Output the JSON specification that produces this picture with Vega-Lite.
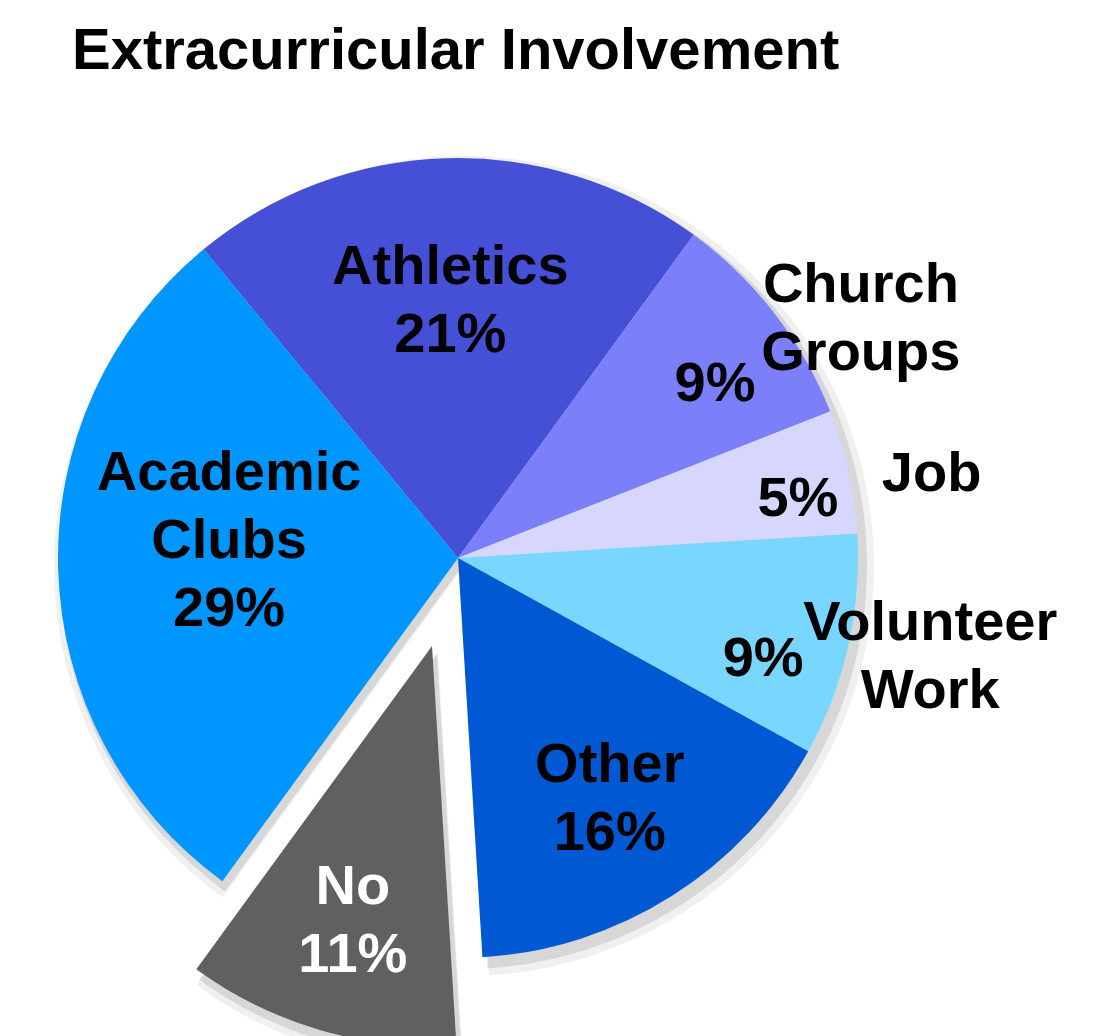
{
  "$schema": "https://vega.github.io/schema/vega-lite/v6.json",
  "width": 916,
  "height": 800,
  "autosize": {"type": "none"},
  "padding": {"left": 0, "top": 158, "right": 199, "bottom": 78},
  "background": "white",
  "title": {"text": "Extracurricular Involvement", "anchor": "start", "font": "Liberation Sans", "fontSize": 58, "fontWeight": "bold", "color": "black", "baseline": "alphabetic", "dx": 72, "dy": -29, "offset": 0},
  "config": {"view": {"stroke": null}, "text": {"font": "Liberation Sans", "fontWeight": "bold", "fontSize": 56, "lineHeight": 68, "lineBreak": "\n", "align": "center", "baseline": "middle"}},
  "data": {"values": [
    {"category": "Athletics", "value": 21, "order": 1, "label": "Athletics\n21%", "pct": "21%", "name": "Athletics"},
    {"category": "Church Groups", "value": 9, "order": 2, "label": "Church Groups\n9%", "pct": "9%", "name": "Church\nGroups"},
    {"category": "Job", "value": 5, "order": 3, "label": "Job\n5%", "pct": "5%", "name": "Job"},
    {"category": "Volunteer Work", "value": 9, "order": 4, "label": "Volunteer Work\n9%", "pct": "9%", "name": "Volunteer\nWork"},
    {"category": "Other", "value": 16, "order": 5, "label": "Other\n16%", "pct": "16%", "name": "Other"},
    {"category": "No", "value": 11, "order": 6, "label": "No\n11%", "pct": "11%", "name": "No"},
    {"category": "Academic Clubs", "value": 29, "order": 7, "label": "Academic\nClubs\n29%", "pct": "29%", "name": "Academic\nClubs"}
  ]},
  "transform": [
    {"stack": "value", "groupby": [], "sort": [{"field": "order", "order": "ascending"}], "as": ["v0", "v1"]},
    {"calculate": "(datum.v0 + datum.v1) / 2", "as": "mid"}
  ],
  "layer": [
    {
      "transform": [{"filter": "datum.category !== 'No'"}],
      "mark": {"type": "arc", "radius": 410, "xOffset": 6, "yOffset": 8, "color": "#000000", "opacity": 0.06},
      "encoding": {
        "theta": {"field": "v0", "type": "quantitative", "scale": {"domain": [0, 100], "range": [-0.6894, 5.5938]}},
        "theta2": {"field": "v1"}
      }
    },
    {
      "transform": [{"filter": "datum.category !== 'No'"}],
      "mark": {"type": "arc", "radius": 404, "xOffset": 5, "yOffset": 7, "color": "#000000", "opacity": 0.1},
      "encoding": {
        "theta": {"field": "v0", "type": "quantitative"},
        "theta2": {"field": "v1"}
      }
    },
    {
      "transform": [{"filter": "datum.category === 'No'"}],
      "mark": {"type": "arc", "radius": 410, "xOffset": -20, "yOffset": 96, "color": "#000000", "opacity": 0.06},
      "encoding": {
        "theta": {"field": "v0", "type": "quantitative"},
        "theta2": {"field": "v1"}
      }
    },
    {
      "transform": [{"filter": "datum.category === 'No'"}],
      "mark": {"type": "arc", "radius": 404, "xOffset": -21, "yOffset": 95, "color": "#000000", "opacity": 0.1},
      "encoding": {
        "theta": {"field": "v0", "type": "quantitative"},
        "theta2": {"field": "v1"}
      }
    },
    {
      "transform": [{"filter": "datum.category !== 'No'"}],
      "mark": {"type": "arc", "radius": 400},
      "encoding": {
        "theta": {"field": "v0", "type": "quantitative"},
        "theta2": {"field": "v1"},
        "color": {"field": "category", "type": "nominal", "legend": null,
          "scale": {"domain": ["Athletics", "Church Groups", "Job", "Volunteer Work", "Other", "No", "Academic Clubs"],
                    "range": ["#4550D6", "#7B80FA", "#D6D6FF", "#78D6FF", "#0059D2", "#606060", "#0096FF"]}}
      }
    },
    {
      "transform": [{"filter": "datum.category === 'No'"}],
      "mark": {"type": "arc", "radius": 400, "xOffset": -26, "yOffset": 88},
      "encoding": {
        "theta": {"field": "v0", "type": "quantitative"},
        "theta2": {"field": "v1"},
        "color": {"field": "category", "type": "nominal", "legend": null}
      }
    },
    {
      "transform": [{"filter": "datum.category === 'Athletics'"}],
      "mark": {"type": "text", "radius": 258, "dy": -33, "color": "black"},
      "encoding": {"theta": {"field": "mid", "type": "quantitative", "stack": null}, "text": {"field": "label"}}
    },
    {
      "transform": [{"filter": "datum.category === 'Academic Clubs'"}],
      "mark": {"type": "text", "radius": 229, "dy": -92, "color": "black"},
      "encoding": {"theta": {"field": "mid", "type": "quantitative", "stack": null}, "text": {"field": "label"}}
    },
    {
      "transform": [{"filter": "datum.category === 'Other'"}],
      "mark": {"type": "text", "radius": 284, "dy": -33, "color": "black"},
      "encoding": {"theta": {"field": "mid", "type": "quantitative", "stack": null}, "text": {"field": "label"}}
    },
    {
      "transform": [{"filter": "datum.category === 'No'"}],
      "mark": {"type": "text", "radius": 282, "xOffset": -26, "yOffset": 88, "dy": -30, "color": "white"},
      "encoding": {"theta": {"field": "mid", "type": "quantitative", "stack": null}, "text": {"field": "label"}}
    },
    {
      "transform": [{"filter": "datum.category === 'Church Groups'"}],
      "mark": {"type": "text", "radius": 311, "dx": 11, "dy": 16, "color": "black"},
      "encoding": {"theta": {"field": "mid", "type": "quantitative", "stack": null}, "text": {"field": "pct"}}
    },
    {
      "transform": [{"filter": "datum.category === 'Job'"}],
      "mark": {"type": "text", "radius": 344, "dx": 4, "dy": 15, "color": "black"},
      "encoding": {"theta": {"field": "mid", "type": "quantitative", "stack": null}, "text": {"field": "pct"}}
    },
    {
      "transform": [{"filter": "datum.category === 'Volunteer Work'"}],
      "mark": {"type": "text", "radius": 320, "dx": -7, "dy": 31, "color": "black"},
      "encoding": {"theta": {"field": "mid", "type": "quantitative", "stack": null}, "text": {"field": "pct"}}
    },
    {
      "transform": [{"filter": "datum.category === 'Church Groups'"}],
      "mark": {"type": "text", "radius": 470, "dx": 31, "dy": 14, "color": "black"},
      "encoding": {"theta": {"field": "mid", "type": "quantitative", "stack": null}, "text": {"field": "name"}}
    },
    {
      "transform": [{"filter": "datum.category === 'Job'"}],
      "mark": {"type": "text", "radius": 480, "dx": 5, "dy": 20, "color": "black"},
      "encoding": {"theta": {"field": "mid", "type": "quantitative", "stack": null}, "text": {"field": "name"}}
    },
    {
      "transform": [{"filter": "datum.category === 'Volunteer Work'"}],
      "mark": {"type": "text", "radius": 482, "dx": 2, "dy": -41, "color": "black"},
      "encoding": {"theta": {"field": "mid", "type": "quantitative", "stack": null}, "text": {"field": "name"}}
    }
  ]
}
